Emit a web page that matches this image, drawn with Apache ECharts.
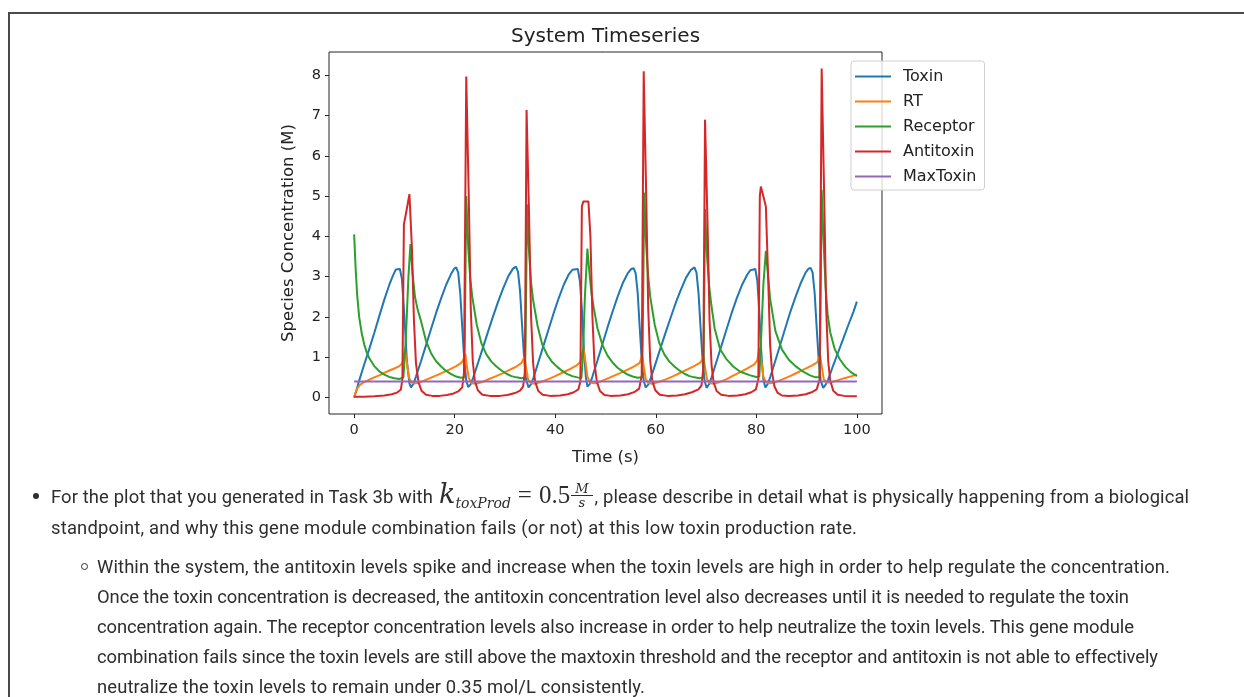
<!DOCTYPE html>
<html>
<head>
<meta charset="utf-8">
<script src="https://cdn.jsdelivr.net/npm/echarts@6/dist/echarts.min.js"></script>
<style>
  html, body { margin:0; padding:0; background:#fff; }
  #page { position:relative; width:1244px; height:697px; overflow:hidden; background:#fff; }
  #chart { position:absolute; left:0; top:0; width:1244px; height:697px; }
  #frameTop { position:absolute; left:8px; top:12px; width:1236px; height:0; border-top:2px solid #4a4a4a; }
  #frameLeft { position:absolute; left:8px; top:12px; width:0; height:690px; border-left:2px solid #4a4a4a; }
  .txt { position:absolute; font-family: Roboto, "Noto Sans", sans-serif; font-size:18.4px; color:#2e2e2e; white-space:nowrap; line-height:20px; }
  .dot { position:absolute; width:6px; height:6px; border-radius:50%; background:#2e2e2e; }
  .ring { position:absolute; width:5px; height:5px; border-radius:50%; border:1.3px solid #2e2e2e; }
  .ms { font-family: "DejaVu Serif", serif; letter-spacing:0; }
  .mt { font-family: "Liberation Serif", "DejaVu Serif", serif; letter-spacing:0; }
  .frac { display:inline-block; vertical-align:middle; text-align:center; font-family:"DejaVu Serif", serif; font-style:italic; font-size:13px; line-height:13px; margin:0 2px 0 1px; position:relative; top:-3px; letter-spacing:0; }
  .frac .num { display:block; border-bottom:1px solid #2e2e2e; padding:0 4px; }
  .frac .den { display:block; padding:0 4px; }
</style>
</head>
<body>
<div id="page">
  <div id="chart"></div>
  <div id="frameTop"></div>
  <div id="frameLeft"></div>
  <div id="textBlock"></div>
</div>
<script>
// ---------- data ----------
const chartTitle = 'System Timeseries';
const xAxisName = 'Time (s)';
const yAxisName = 'Species Concentration (M)';
const seriesNames = ['Toxin', 'RT', 'Receptor', 'Antitoxin', 'MaxToxin'];
const xTicks = [0, 20, 40, 60, 80, 100];
const yTicks = [0, 1, 2, 3, 4, 5, 6, 7, 8];

const toxinData = [
  [0,0.0],[0.5,0.2],[1,0.42],[2,0.82],[3,1.2],[4,1.6],[5,2.02],[6,2.43],[7,2.8],[7.7,3.02],[8.3,3.18],[9.1,3.19],
  [9.5,2.95],[10,2.0],[10.5,0.9],[11,0.35],[11.3,0.25],
  [11.8,0.34],[12.3,0.52],[13.3,0.9],[14.3,1.3],[15.3,1.7],[16.3,2.1],[17.3,2.46],[18.3,2.8],[19.3,3.07],[19.9,3.2],[20.3,3.23],
  [20.7,3.1],[21.1,2.6],[21.5,1.75],[21.9,0.95],[22.3,0.42],[22.7,0.26],
  [23.2,0.33],[23.7,0.5],[24.7,0.88],[25.7,1.27],[26.7,1.66],[27.7,2.04],[28.7,2.4],[29.7,2.73],[30.7,3.02],[31.6,3.2],[32.2,3.25],
  [32.6,3.12],[33.0,2.65],[33.4,1.8],[33.8,1.0],[34.2,0.45],[34.7,0.25],
  [35.2,0.33],[35.7,0.5],[36.7,0.9],[37.7,1.3],[38.7,1.7],[39.7,2.1],[40.7,2.47],[41.7,2.8],[42.7,3.06],[43.4,3.17],[43.7,3.19],[44.5,3.19],
  [44.9,2.9],[45.3,2.2],[45.7,1.2],[46.1,0.5],[46.4,0.27],
  [46.9,0.34],[47.4,0.52],[48.4,0.92],[49.4,1.33],[50.4,1.74],[51.4,2.13],[52.4,2.5],[53.4,2.83],[54.4,3.08],[55.1,3.19],[55.6,3.21],
  [56.0,3.08],[56.4,2.6],[56.8,1.75],[57.2,0.95],[57.6,0.42],[58.0,0.25],
  [58.5,0.32],[59,0.48],[60,0.86],[61,1.25],[62,1.63],[63,2.0],[64,2.36],[65,2.68],[66,2.97],[67,3.17],[67.7,3.23],
  [68.1,3.1],[68.5,2.6],[68.9,1.75],[69.3,0.95],[69.7,0.42],[70.1,0.24],
  [70.6,0.33],[71.1,0.5],[72.1,0.9],[73.1,1.3],[74.1,1.7],[75.1,2.1],[76.1,2.46],[77.1,2.78],[78.1,3.03],[78.8,3.16],[79.1,3.19],[79.8,3.19],
  [80.2,2.9],[80.6,2.1],[81.0,1.1],[81.4,0.45],[81.8,0.25],
  [82.3,0.34],[82.8,0.52],[83.8,0.92],[84.8,1.33],[85.8,1.74],[86.8,2.14],[87.8,2.5],[88.8,2.83],[89.8,3.1],[90.4,3.2],[90.8,3.22],
  [91.2,3.1],[91.6,2.6],[92.0,1.75],[92.4,0.95],[92.8,0.42],[93.3,0.24],
  [93.8,0.32],[94.3,0.45],[95.3,0.8],[96.3,1.13],[97.3,1.46],[98.3,1.8],[99.3,2.12],[100,2.38]
];

const rtData = [
  [0,0],[0.3,0.12],[0.7,0.24],[1.2,0.32],[1.8,0.37],[3,0.44],[4,0.5],[5,0.55],[6,0.61],[7,0.67],[8,0.72],[9,0.78],[9.6,0.85],
  [10.1,1.21],[10.5,0.85],[10.9,0.5],[11.4,0.37],[12.2,0.35],[13.2,0.38],[14.5,0.45],[16,0.53],[17.5,0.61],[19,0.7],[20.3,0.78],[21.3,0.86],[21.7,0.93],
  [22.1,1.09],[22.4,0.8],[22.8,0.48],[23.3,0.36],[24.1,0.34],[25.2,0.37],[26.5,0.44],[28,0.52],[29.5,0.6],[31,0.69],[32.3,0.77],[33.3,0.86],
  [33.9,1.02],[34.2,0.75],[34.6,0.45],[35.1,0.36],[35.9,0.34],[37,0.38],[38.5,0.45],[40,0.53],[41.5,0.62],[43,0.71],[44.2,0.79],[45.0,0.88],
  [45.6,1.23],[46.0,0.9],[46.4,0.52],[46.9,0.38],[47.7,0.35],[48.7,0.38],[50,0.45],[51.5,0.53],[53,0.61],[54.5,0.7],[55.8,0.78],[56.8,0.86],
  [57.3,1.05],[57.6,0.78],[58.0,0.46],[58.5,0.36],[59.3,0.34],[60.4,0.38],[62,0.45],[63.5,0.53],[65,0.62],[66.5,0.71],[67.8,0.79],[68.9,0.87],
  [69.5,1.02],[69.8,0.75],[70.2,0.45],[70.7,0.36],[71.5,0.34],[72.6,0.38],[74,0.45],[75.5,0.55],[77,0.64],[78.5,0.74],[79.6,0.82],[80.2,0.92],
  [80.6,1.23],[81.0,0.9],[81.4,0.52],[81.9,0.38],[82.7,0.35],[83.8,0.38],[85.2,0.45],[86.7,0.53],[88.2,0.62],[89.7,0.71],[91,0.79],[92.1,0.87],
  [92.7,1.05],[93.0,0.78],[93.4,0.46],[93.9,0.37],[94.7,0.37],[96,0.42],[97.5,0.48],[99,0.53],[100,0.57]
];

const receptorData = [
  [0,4.05],[0.3,3.2],[0.6,2.55],[1,2.0],[1.5,1.6],[2,1.32],[2.5,1.12],[3,0.98],[4,0.78],[5,0.65],[6,0.57],[7,0.51],[8,0.48],[9,0.46],[9.8,0.5],
  [10.3,1.5],[10.8,3.0],[11.2,3.81],[11.6,3.1],[12.1,2.5],[12.6,2.2],[13.3,1.9],[14.3,1.4],[15.3,1.1],[16.3,0.9],[17.3,0.77],[18.3,0.66],[19.3,0.58],[20.3,0.52],[21.2,0.49],[21.85,0.5],
  [22.0,1.3],[22.3,5.0],[22.7,3.7],[23.1,2.95],[23.5,2.5],[24.4,1.8],[25.3,1.35],[26.3,1.07],[27.3,0.89],[28.3,0.77],[29.3,0.67],[30.3,0.59],[31.3,0.53],[32.3,0.5],[33.3,0.48],[33.95,0.5],
  [34.1,1.3],[34.4,4.8],[34.8,3.6],[35.2,2.85],[35.6,2.42],[36.5,1.77],[37.4,1.32],[38.4,1.06],[39.4,0.88],[40.4,0.76],[41.4,0.66],[42.4,0.58],[43.4,0.53],[44.4,0.5],[45.2,0.48],
  [45.5,1.0],[45.9,2.5],[46.4,3.7],[46.8,3.1],[47.2,2.6],[47.7,2.2],[48.4,1.72],[49.4,1.3],[50.4,1.04],[51.4,0.87],[52.4,0.74],[53.4,0.65],[54.4,0.57],[55.4,0.52],[56.4,0.49],[57.25,0.5],
  [57.4,1.3],[57.7,5.09],[58.1,3.75],[58.5,3.0],[58.9,2.5],[59.8,1.8],[60.7,1.35],[61.7,1.07],[62.7,0.89],[63.7,0.77],[64.7,0.67],[65.7,0.59],[66.7,0.53],[67.7,0.5],[68.7,0.48],[69.45,0.5],
  [69.55,1.3],[69.8,4.68],[70.2,3.5],[70.6,2.8],[71.0,2.35],[71.7,1.72],[72.8,1.2],[74,0.96],[75.4,0.77],[76.8,0.64],[78.8,0.55],[80.0,0.51],[80.6,0.52],
  [80.9,1.3],[81.4,2.8],[81.9,3.64],[82.35,3.0],[82.75,2.45],[83.8,1.65],[85.1,1.19],[86.5,0.93],[88,0.76],[89.3,0.64],[90.7,0.55],[91.8,0.5],[92.55,0.5],
  [92.7,1.3],[93.0,5.16],[93.4,3.8],[93.8,2.7],[94.2,2.05],[94.7,1.62],[95.6,1.2],[96.6,0.95],[97.7,0.76],[98.8,0.63],[100,0.53]
];

const antitoxinData = [
  [0,0.02],[2,0.02],[4,0.03],[6,0.05],[7.5,0.08],[8.5,0.12],[9.3,0.2],[9.6,0.45],[9.9,4.3],[10.5,4.7],[11.0,5.05],
  [11.5,3.7],[11.9,1.9],[12.3,0.85],[12.8,0.38],[13.4,0.17],[14.3,0.07],[15.5,0.04],[17,0.04],[18.5,0.06],[19.8,0.1],[20.8,0.16],[21.5,0.25],[21.85,0.6],
  [22.3,7.97],[22.8,5.0],[23.2,2.2],[23.6,0.9],[24.0,0.42],[24.6,0.18],[25.5,0.07],[27,0.04],[29,0.04],[30.5,0.06],[32,0.11],[33,0.17],[33.6,0.27],[33.95,0.6],
  [34.3,7.14],[34.8,4.5],[35.2,2.0],[35.6,0.85],[36.0,0.4],[36.6,0.17],[37.5,0.07],[39,0.04],[41,0.05],[42.5,0.08],[43.7,0.13],[44.6,0.2],[45.0,0.4],
  [45.3,4.75],[45.6,4.87],[46.6,4.87],[47.0,4.0],[47.4,2.0],[47.8,0.85],[48.3,0.38],[48.9,0.16],[49.8,0.06],[51,0.04],[53,0.05],[54.5,0.08],[55.8,0.14],[56.7,0.22],[57.2,0.55],
  [57.6,8.1],[58.1,5.0],[58.5,2.2],[58.9,0.9],[59.3,0.42],[59.9,0.18],[60.8,0.07],[62.3,0.04],[64.3,0.05],[65.8,0.08],[67.2,0.13],[68.5,0.2],[69.1,0.3],[69.45,0.7],
  [69.8,6.9],[70.3,4.3],[70.7,1.9],[71.1,0.8],[71.5,0.38],[72.1,0.16],[73,0.07],[74.5,0.04],[76.3,0.05],[77.8,0.08],[79,0.13],[79.9,0.2],[80.4,0.45],
  [80.7,5.0],[80.9,5.24],[81.5,4.95],[81.9,4.74],[82.35,3.0],[82.75,1.3],[83.15,0.6],[83.6,0.28],[84.2,0.12],[85.1,0.05],[86.5,0.04],[88.3,0.05],[89.8,0.08],[91,0.13],[92,0.2],[92.6,0.45],
  [93.0,8.17],[93.5,5.0],[93.9,2.2],[94.3,0.9],[94.7,0.42],[95.3,0.17],[96.2,0.07],[97.5,0.04],[100,0.03]
];

const maxToxinData = [[0,0.4],[100,0.4]];

const seriesColors = ['#1f77b4', '#ff7f0e', '#2ca02c', '#d62728', '#9467bd'];

// ---------- text below the chart ----------
const bulletLine1a = 'For the plot that you generated in Task 3b with';
const bulletLine1b = ', please describe in detail what is physically happening from a biological';
const bulletLine2 = 'standpoint, and why this gene module combination fails (or not) at this low toxin production rate.';
const subLines = [
  'Within the system, the antitoxin levels spike and increase when the toxin levels are high in order to help regulate the concentration.',
  'Once the toxin concentration is decreased, the antitoxin concentration level also decreases until it is needed to regulate the toxin',
  'concentration again. The receptor concentration levels also increase in order to help neutralize the toxin levels. This gene module',
  'combination fails since the toxin levels are still above the maxtoxin threshold and the receptor and antitoxin is not able to effectively',
  'neutralize the toxin levels to remain under 0.35 mol/L consistently.'
];

function el(cls, styleText, inner) {
  const d = document.createElement('div');
  d.className = cls;
  d.setAttribute('style', styleText);
  if (inner !== undefined) d.innerHTML = inner;
  document.getElementById('textBlock').appendChild(d);
  return d;
}
function fitRight(node, targetRight) {
  // stretch a line's letter spacing so it ends where the reference line ends
  const w = node.getBoundingClientRect().right;
  const n = node.textContent.length - 1;
  if (n > 0) node.style.letterSpacing = ((targetRight - w) / n).toFixed(3) + 'px';
}
el('dot', 'left:33px;top:493px');
const first = el('txt', 'left:51px;top:484px',
  '<span class="p1">' + bulletLine1a + '</span>' +
  '<span class="ms" style="font-style:italic;font-size:27px;margin-left:6px;">k</span>' +
  '<span class="ms" style="font-style:italic;font-size:14px;position:relative;top:5px;">toxProd</span>' +
  '<span class="mt" style="font-size:25px;margin-left:7px;">=</span>' +
  '<span class="mt" style="font-size:25px;margin-left:7px;">0.5</span>' +
  '<span class="frac"><span class="num">M</span><span class="den">s</span></span>' +
  '<span class="p2">' + bulletLine1b + '</span>');
const second = el('txt', 'left:51px;top:518px', bulletLine2);
el('ring', 'left:81px;top:563px');
const subY = [567, 597, 627, 657, 687];
const subNodes = subLines.map((s, i) => el('txt', 'left:97px;top:' + (subY[i] - 10) + 'px', s));

function fitAll() {
  const p1 = first.querySelector('.p1'), p2 = first.querySelector('.p2');
  p1.style.letterSpacing = '0px'; p2.style.letterSpacing = '0px';
  const r1 = p1.getBoundingClientRect().right, n1 = p1.textContent.length;
  p1.style.letterSpacing = ((433 - r1) / n1).toFixed(3) + 'px';
  const r2 = p2.getBoundingClientRect().right, n2 = p2.textContent.length - 1;
  p2.style.letterSpacing = ((1189 - r2) / n2).toFixed(3) + 'px';
  second.style.letterSpacing = '0px'; fitRight(second, 857);
  const subRights = [1170, 1129, 1134, 1158, 645];
  subNodes.forEach((nd, i) => { nd.style.letterSpacing = '0px'; fitRight(nd, subRights[i]); });
}
fitAll();
if (document.fonts && document.fonts.ready) document.fonts.ready.then(fitAll);

// ---------- chart ----------
const chart = echarts.init(document.getElementById('chart'));
const dataSets = [toxinData, rtData, receptorData, antitoxinData, maxToxinData];
const axisTextColor = '#222';
const font = 'DejaVu Sans';

chart.setOption({
  animation: false,
  graphic: [{
    type: 'text', x: 605.5, y: 37, z: 10,
    style: { text: chartTitle, fontFamily: font, fontSize: 20, fill: axisTextColor, textAlign: 'center', textVerticalAlign: 'middle' }
  }],
  grid: { left: 329, top: 52, width: 553, height: 362, show: true, borderColor: '#262626', borderWidth: 1, backgroundColor: 'transparent' },
  xAxis: {
    type: 'value', min: -5, max: 105,
    axisLine: { show: false, onZero: false },
    splitLine: { show: false },
    axisTick: { show: true, inside: false, length: 4, customValues: xTicks, lineStyle: { color: '#262626' } },
    axisLabel: { customValues: xTicks, margin: 9, fontSize: 14.5, fontFamily: font, color: axisTextColor },
    name: xAxisName, nameLocation: 'middle', nameGap: 35,
    nameTextStyle: { fontSize: 16.5, fontFamily: font, color: axisTextColor }
  },
  yAxis: {
    type: 'value', min: -0.41, max: 8.58,
    axisLine: { show: false, onZero: false },
    splitLine: { show: false },
    axisTick: { show: true, inside: false, length: 4, customValues: yTicks, lineStyle: { color: '#262626' } },
    axisLabel: { customValues: yTicks, margin: 8, fontSize: 14.5, fontFamily: font, color: axisTextColor },
    name: yAxisName, nameLocation: 'middle', nameGap: 32, nameRotate: 90,
    nameTextStyle: { fontSize: 16.5, fontFamily: font, color: axisTextColor }
  },
  legend: {
    orient: 'vertical', left: 851, top: 61,
    icon: 'rect', itemWidth: 36, itemHeight: 2, itemGap: 0,
    padding: [3, 8, 1, 4],
    backgroundColor: 'rgba(255,255,255,0.8)', borderColor: '#cfcfcf', borderWidth: 1, borderRadius: 3,
    itemStyle: { borderWidth: 0 },
    textStyle: { fontSize: 16, fontFamily: font, color: axisTextColor, lineHeight: 25, padding: [0, 0, 0, 7] },
    data: seriesNames
  },
  series: seriesNames.map((name, i) => ({
    name: name, type: 'line', data: dataSets[i], showSymbol: false, symbol: 'none',
    lineStyle: { width: 2, color: seriesColors[i] },
    itemStyle: { color: seriesColors[i] },
    emphasis: { disabled: true }
  }))
});
</script>
</body>
</html>
